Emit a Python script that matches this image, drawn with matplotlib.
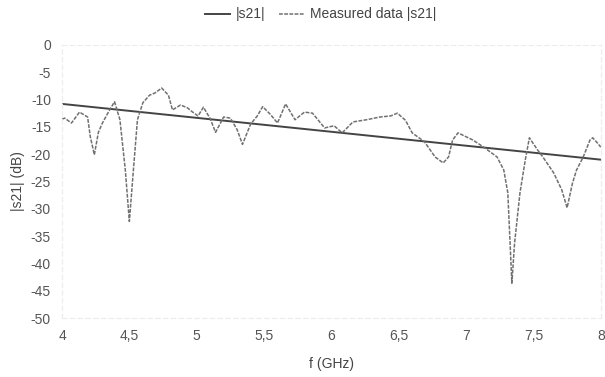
import matplotlib
matplotlib.use('Agg')
import matplotlib.pyplot as plt
from matplotlib.ticker import FuncFormatter

plt.rcParams['font.family'] = ['Liberation Sans', 'DejaVu Sans']
plt.rcParams['axes.unicode_minus'] = False

# fitted |s21| line (end points)
fit_f = [4.0, 8.0]
fit_s21 = [-10.8, -21.0]

# measured |s21|
meas_f = [4.0, 4.02, 4.07, 4.13, 4.19, 4.21, 4.24, 4.27, 4.3, 4.34, 4.39,
          4.43, 4.47, 4.5, 4.53, 4.56, 4.6, 4.65, 4.69, 4.74, 4.79, 4.82,
          4.88, 4.93, 4.97, 5.01, 5.05, 5.1, 5.14, 5.2, 5.25, 5.3, 5.34,
          5.4, 5.45, 5.49, 5.55, 5.6, 5.66, 5.73, 5.8, 5.86, 5.92, 5.95,
          6.02, 6.08, 6.16, 6.26, 6.36, 6.44, 6.49, 6.55, 6.6, 6.69, 6.77,
          6.83, 6.87, 6.9, 6.94, 7.05, 7.13, 7.23, 7.28, 7.31, 7.34, 7.36,
          7.4, 7.44, 7.47, 7.53, 7.57, 7.65, 7.71, 7.75, 7.79, 7.82, 7.87,
          7.92, 7.94, 7.97, 8.0]
meas_s21 = [-13.6, -13.4, -14.3, -12.3, -13.2, -16.8, -20.1, -16.0, -14.3,
            -12.5, -10.4, -13.7, -22.9, -32.3, -22.9, -13.7, -10.6, -9.2,
            -8.8, -7.9, -9.2, -11.9, -11.0, -11.5, -12.3, -13.0, -11.4,
            -13.5, -16.0, -13.2, -13.4, -15.5, -18.2, -14.5, -13.0, -11.3,
            -12.8, -14.3, -10.8, -13.7, -12.3, -12.5, -14.3, -15.2, -14.8,
            -16.1, -14.1, -13.7, -13.2, -13.0, -12.5, -13.8, -16.1, -17.7,
            -20.5, -21.6, -20.5, -17.4, -16.1, -17.4, -18.7, -20.5, -22.9,
            -27.1, -43.6, -36.3, -27.1, -21.0, -17.0, -19.2, -20.5, -23.4,
            -26.5, -29.8, -25.3, -22.9, -20.5, -17.4, -17.0, -17.8, -18.7]

x_ticks = [4, 4.5, 5, 5.5, 6, 6.5, 7, 7.5, 8]
y_ticks = [0, -5, -10, -15, -20, -25, -30, -35, -40, -45, -50]

fig = plt.figure(figsize=(6.05, 3.77), dpi=100)
ax = fig.add_axes([0.1025, 0.156, 0.8905, 0.725])

ax.plot(fit_f, fit_s21, color='#444444', linewidth=1.4, label='|s21|')
ax.plot(meas_f, meas_s21, color='#707070', linewidth=1.1,
        linestyle=(0, (2.5, 0.9)), label='Measured data |s21|')

ax.set_xlim(4, 8)
ax.set_ylim(-50, 0)
ax.set_xticks(x_ticks)
ax.set_yticks(y_ticks)
ax.xaxis.set_major_formatter(FuncFormatter(lambda v, p: ('%g' % v).replace('.', ',')))
ax.tick_params(length=0, labelsize=10, colors='#555555', pad=8)

for s in ax.spines.values():
    s.set_color('#ececec')
    s.set_linestyle((0, (4, 3)))
    s.set_linewidth(0.8)

ax.set_xlabel('f (GHz)', fontsize=10, color='#444444', labelpad=10)
ax.set_ylabel('|s21| (dB)', fontsize=10, color='#444444', labelpad=4)

ax.legend(loc='lower center', bbox_to_anchor=(0.48, 1.04), ncol=2,
          frameon=False, fontsize=10, handlelength=1.8, columnspacing=1.0,
          handletextpad=0.4, labelcolor='#444444')

fig.savefig('out.png', dpi=100)
